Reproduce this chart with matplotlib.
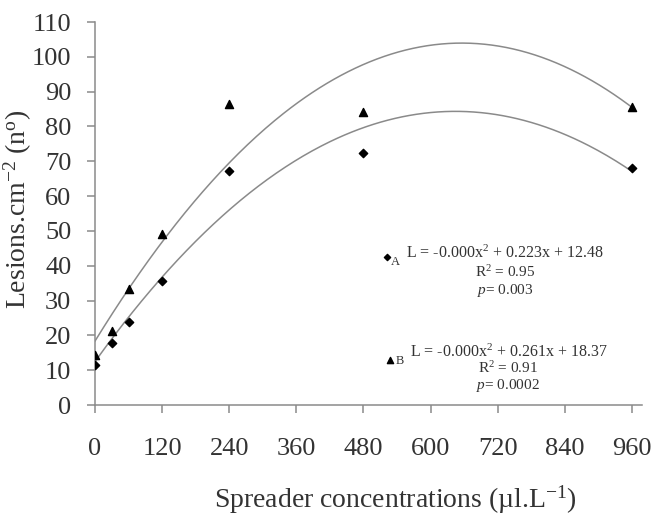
"""
Lesions per cm² vs spreader concentration, two quadratic fits (A, B)
"""

import matplotlib

matplotlib.use("Agg")
import matplotlib.pyplot as plt
import numpy as np

plt.rcParams["font.family"] = ["Liberation Serif", "DejaVu Serif"]
plt.rcParams["mathtext.fontset"] = "custom"
plt.rcParams["mathtext.rm"] = "Liberation Serif"
plt.rcParams["mathtext.it"] = "Liberation Serif:italic"

# ── Data ───────────────────────────────────────────────
conc = [0, 30, 60, 120, 240, 480, 960]
lesions_a = [11.5, 17.7, 23.8, 35.6, 67.2, 72.5, 68.0]   # diamonds
lesions_b = [14.4, 21.3, 33.3, 49.0, 86.5, 84.3, 85.7]   # triangles

# quadratic fits: a*x^2 + b*x + c
fit_a = [-0.000173, 0.223, 12.48]
fit_b = [-0.000199, 0.261, 18.37]

x_ticks = [0, 120, 240, 360, 480, 600, 720, 840, 960]
y_ticks = [0, 10, 20, 30, 40, 50, 60, 70, 80, 90, 100, 110]

GRAY = "#8a8a8a"
TEXT = "#333333"

# ── Plot ───────────────────────────────────────────────
fig = plt.figure(figsize=(6.55, 5.18), dpi=100)
ax = fig.add_axes([0.145, 0.218, 0.835, 0.7395])

xs = np.linspace(0, 960, 300)
ax.plot(xs, np.polyval(fit_a, xs), color=GRAY, lw=1.1, zorder=2)
ax.plot(xs, np.polyval(fit_b, xs), color=GRAY, lw=1.1, zorder=2)

ax.scatter(conc, lesions_a, marker="D", s=18, color="black", zorder=3)
ax.scatter(conc, lesions_b, marker="^", s=34, color="black", zorder=3)

# equation annotations
ax.scatter([522], [42.5], marker="D", s=10, color="black")
ax.text(530, 41.0, "A", fontsize=9, color=TEXT, va="center")
ax.text(733, 43.6, r"L = -0.000x$^{2}$ + 0.223x + 12.48", fontsize=11.5,
        color=TEXT, ha="center", va="center")
ax.text(733, 38.2, r"R$^{2}$ = 0.95", fontsize=11, color=TEXT, ha="center", va="center")
ax.text(733, 33.0, r"$p$= 0.003", fontsize=11, color=TEXT, ha="center", va="center")

ax.scatter([527], [13.0], marker="^", s=20, color="black")
ax.text(537, 12.6, "B", fontsize=9, color=TEXT, va="center")
ax.text(740, 15.2, r"L = -0.000x$^{2}$ + 0.261x + 18.37", fontsize=11.5,
        color=TEXT, ha="center", va="center")
ax.text(738, 10.6, r"R$^{2}$ = 0.91", fontsize=11, color=TEXT, ha="center", va="center")
ax.text(738, 5.7, r"$p$= 0.0002", fontsize=11, color=TEXT, ha="center", va="center")

# Axes
ax.set_xlim(0, 978)
ax.set_ylim(0, 110)
ax.set_xticks(x_ticks)
ax.set_yticks(y_ticks)
for side in ("top", "right"):
    ax.spines[side].set_visible(False)
for side in ("left", "bottom"):
    ax.spines[side].set_color(GRAY)
    ax.spines[side].set_linewidth(1.1)
ax.spines["left"].set_bounds(0, 110)
ax.tick_params(axis="both", direction="out", length=6, width=1.1, color=GRAY,
               labelsize=19, labelcolor=TEXT)
ax.tick_params(axis="x", pad=18)
ax.tick_params(axis="y", pad=11)

ax.set_xlabel(r"Spreader concentrations (µl.L$^{-1}$)", fontsize=20, color=TEXT)
ax.set_ylabel(r"Lesions.cm$^{-2}$ (n$^{\mathrm{o}}$)", fontsize=20, color=TEXT)
ax.xaxis.set_label_coords(0.550, -0.205)
ax.yaxis.set_label_coords(-0.112, 0.51)

fig.savefig("out.png", dpi=100, facecolor="white")
plt.close()
